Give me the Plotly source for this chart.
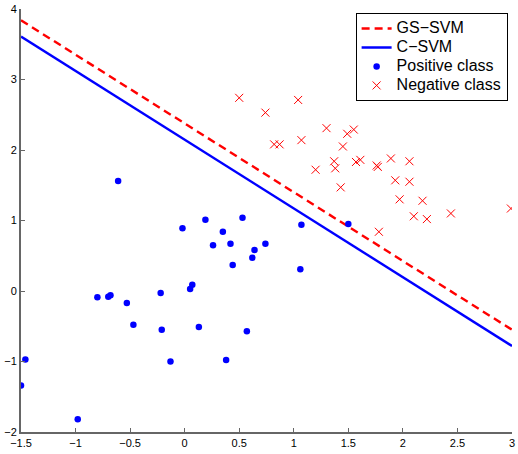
import plotly.graph_objects as go

# Decision lines (endpoints at the x-axis limits)
gs_x = [-1.5, 3.0]
gs_y = [3.84, -0.55]
c_x = [-1.5, 3.0]
c_y = [3.61, -0.78]

# Positive class
pos_x = [-0.61, -0.02, 0.19, 0.53, 0.35, 0.26, 0.42, 0.74, 0.64, 0.62, 0.44, 1.07, 1.06, 1.50,
         0.07, 0.05, -0.22, -0.80, -0.70, -0.68, -0.53, -0.47, -0.21, 0.13, 0.57, -0.13, 0.38,
         -1.46, -1.50, -0.98]
pos_y = [1.56, 0.89, 1.01, 1.04, 0.84, 0.65, 0.67, 0.67, 0.58, 0.47, 0.37, 0.94, 0.31, 0.95,
         0.09, 0.03, -0.03, -0.09, -0.08, -0.06, -0.17, -0.48, -0.55, -0.51, -0.57, -1.00, -0.98,
         -0.97, -1.34, -1.82]

# Negative class
neg_x = [0.50, 1.04, 0.74, 1.30, 1.49, 1.55, 0.82, 0.87, 1.07, 1.45, 1.37, 1.38, 1.20, 1.57,
         1.61, 1.76, 1.77, 1.89, 2.06, 1.93, 2.06, 1.43, 1.97, 2.18, 2.10, 2.22, 2.44, 2.99, 1.78]
neg_y = [2.74, 2.71, 2.53, 2.31, 2.23, 2.29, 2.08, 2.08, 2.14, 2.05, 1.84, 1.74, 1.72, 1.83,
         1.86, 1.78, 1.76, 1.88, 1.84, 1.57, 1.55, 1.47, 1.30, 1.28, 1.06, 1.02, 1.10, 1.17, 0.84]

# Tick labels
x_ticks = [-1.5, -1, -0.5, 0, 0.5, 1, 1.5, 2, 2.5, 3]
x_tick_text = ["\u22121.5", "\u22121", "\u22120.5", "0", "0.5", "1", "1.5", "2", "2.5", "3"]
y_ticks = [-2, -1, 0, 1, 2, 3, 4]
y_tick_text = ["\u22122", "\u22121", "0", "1", "2", "3", "4"]

# Legend names
names = ["GS\u2212SVM", "C\u2212SVM", "Positive class", "Negative class"]


def big(s):
    return '<span style="font-size:16px">' + s + '</span>'


fig = go.Figure()
fig.add_trace(go.Scatter(x=gs_x, y=gs_y, mode="lines", name=big(names[0]),
                         line=dict(color="#ff0000", width=2.4, dash="8px,5px")))
fig.add_trace(go.Scatter(x=c_x, y=c_y, mode="lines", name=big(names[1]),
                         line=dict(color="#0000ff", width=2.4)))
fig.add_trace(go.Scatter(x=pos_x, y=pos_y, mode="markers", name=big(names[2]),
                         marker=dict(color="#0000ff", size=6.5, symbol="circle")))
fig.add_trace(go.Scatter(x=neg_x, y=neg_y, mode="markers", name=big(names[3]),
                         marker=dict(color="#ff0000", size=8, symbol="x-thin",
                                     line=dict(color="#ff0000", width=1))))

axis_common = dict(showline=True, linecolor="#666666", linewidth=2, ticks="inside",
                   ticklen=4, tickcolor="#666666", tickwidth=1, showgrid=False, zeroline=False,
                   ticklabeloverflow="allow",
                   tickfont=dict(family="Liberation Sans, Arial", size=11, color="black"))

fig.update_layout(
    width=518, height=454,
    margin=dict(l=21, r=4, t=3, b=22),
    plot_bgcolor="white", paper_bgcolor="white",
    hovermode=False,
    xaxis=dict(range=[-1.5, 3], tickmode="array", tickvals=x_ticks, ticktext=x_tick_text,
               **axis_common),
    yaxis=dict(range=[-2, 4], tickmode="array", tickvals=y_ticks, ticktext=y_tick_text,
               **axis_common),
    legend=dict(x=0.6815, y=0.9907, xanchor="left", yanchor="top",
                bordercolor="black", borderwidth=1, bgcolor="white",
                font=dict(family="Liberation Sans, Arial", size=12, color="black"),
                tracegroupgap=0, itemwidth=30),
    showlegend=True,
)

fig.write_html("out.html", config={"displayModeBar": False},
               post_script="document.body.style.margin='0';document.body.style.overflow='hidden';")
